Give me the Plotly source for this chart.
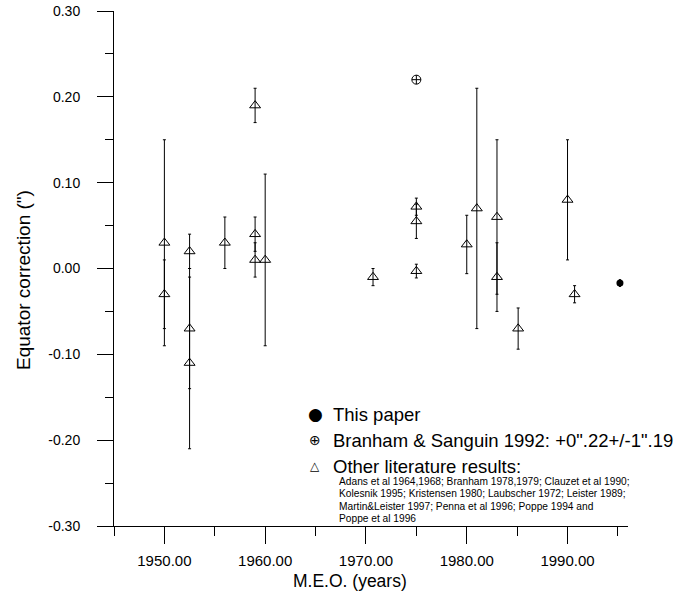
import plotly.graph_objects as go

# ---------------- data ----------------
lit_years = [1950.0, 1950.0, 1952.5, 1952.5, 1952.5, 1956.0, 1959.0, 1959.0, 1959.0, 1960.0,
             1970.7, 1975.0, 1975.0, 1975.0, 1980.0, 1981.0, 1983.0, 1983.0, 1985.1, 1990.0, 1990.7]
lit_corr = [0.03, -0.03, 0.02, -0.07, -0.11, 0.03, 0.19, 0.04, 0.01, 0.01,
            -0.01, 0.072, 0.055, -0.003, 0.028, 0.07, 0.06, -0.01, -0.07, 0.08, -0.03]
lit_err = [0.12, 0.04, 0.02, 0.07, 0.10, 0.03, 0.02, 0.02, 0.02, 0.10,
           0.01, 0.01, 0.02, 0.008, 0.034, 0.14, 0.09, 0.04, 0.024, 0.07, 0.01]

branham_years = [1975.0]
branham_corr = [0.22]

paper_years = [1995.2]
paper_corr = [-0.017]
paper_err = [0.004]

x_tickvals = [1950, 1960, 1970, 1980, 1990]
y_tickvals = [-0.30, -0.20, -0.10, 0.00, 0.10, 0.20, 0.30]
x_ticktext = [f"{v:.2f}" for v in x_tickvals]
y_ticktext = [f"{v:.2f}" for v in y_tickvals]

legend_labels = ["This paper", "Branham & Sanguin 1992: +0\".22+/-1\".19", "Other literature results:"]
ref_lines = [
    "Adans et al 1964,1968; Branham 1978,1979; Clauzet et al 1990;",
    "Kolesnik 1995; Kristensen 1980; Laubscher 1972; Leister 1989;",
    "Martin&Leister 1997; Penna et al 1996; Poppe 1994 and",
    "Poppe et al 1996",
]

# ---------------- figure ----------------
W, H = 693, 591
ML, MR, MT, MB = 114, 65, 11, 65
PW, PH = W - ML - MR, H - MT - MB


def px(x):
    return (x - ML) / PW


def py(y):
    return (H - MB - y) / PH


FONT = "Liberation Sans, Arial, sans-serif"

fig = go.Figure()
fig.add_trace(go.Scatter(
    x=lit_years, y=lit_corr, mode="markers",
    marker=dict(symbol="triangle-up-open", size=9.5, color="black", line=dict(width=1, color="black")),
    error_y=dict(type="data", array=lit_err, color="black", thickness=1, width=1.5),
    showlegend=False))
fig.add_trace(go.Scatter(
    x=branham_years, y=branham_corr, mode="markers",
    marker=dict(symbol="circle-cross-open", size=9, color="black", line=dict(width=1, color="black")),
    showlegend=False))
fig.add_trace(go.Scatter(
    x=paper_years, y=paper_corr, mode="markers",
    marker=dict(symbol="circle", size=7, color="black"),
    error_y=dict(type="data", array=paper_err, color="black", thickness=1, width=1),
    showlegend=False))

annotations = []
# legend keys
glyphs = [("\u25CF", 17, 414), ("\u2295", 14, 440), ("\u25B3", 12, 466)]
for g, fs, yy in glyphs:
    annotations.append(dict(text=g, x=px(315), y=py(yy), xref="paper", yref="paper",
                            xanchor="center", yanchor="middle", showarrow=False,
                            font=dict(family="DejaVu Sans", size=fs, color="black")))
for lab, yy in zip(legend_labels, [414, 440, 466.5]):
    annotations.append(dict(text=lab, x=px(331), y=py(yy), xref="paper", yref="paper",
                            xanchor="left", yanchor="middle", showarrow=False,
                            font=dict(family=FONT, size=18.5, color="black")))
for i, line in enumerate(ref_lines):
    annotations.append(dict(text=line, x=px(337), y=py(481.7 + 12.2 * i), xref="paper", yref="paper",
                            xanchor="left", yanchor="middle", showarrow=False,
                            font=dict(family=FONT, size=10.2, color="black")))
# axis titles
annotations.append(dict(text="M.E.O. (years)", x=px(350), y=py(581), xref="paper", yref="paper",
                        xanchor="center", yanchor="middle", showarrow=False,
                        font=dict(family=FONT, size=17.5, color="black")))
annotations.append(dict(text="Equator correction (\")", x=px(23), y=py(280), xref="paper", yref="paper",
                        xanchor="center", yanchor="middle", textangle=-90, showarrow=False,
                        font=dict(family=FONT, size=19, color="black")))

fig.update_layout(
    width=W, height=H,
    margin=dict(l=ML, r=MR, t=MT, b=MB, pad=0, autoexpand=False),
    paper_bgcolor="white", plot_bgcolor="white",
    font=dict(family=FONT, color="black"),
    annotations=annotations,
    showlegend=False,
)
fig.update_xaxes(
    range=[1945, 1996], tickmode="array", tickvals=x_tickvals, ticktext=x_ticktext, automargin=False,
    showline=True, linecolor="black", linewidth=1, showgrid=False, zeroline=False,
    ticks="outside", ticklen=17, tickcolor="black", tickwidth=1,
    ticklabelstandoff=4,
    tickfont=dict(family=FONT, size=15, color="black"),
    minor=dict(tickmode="linear", tick0=1945, dtick=10, ticks="outside", ticklen=9,
               tickcolor="black", tickwidth=1, showgrid=False),
)
fig.update_yaxes(
    range=[-0.30, 0.30], tickmode="array", tickvals=y_tickvals, ticktext=y_ticktext, automargin=False,
    showline=True, linecolor="black", linewidth=1, showgrid=False, zeroline=False,
    ticks="outside", ticklen=16, tickcolor="black", tickwidth=1,
    ticklabelstandoff=14,
    tickfont=dict(family=FONT, size=14, color="black"),
    minor=dict(tickmode="linear", tick0=-0.25, dtick=0.1, ticks="outside", ticklen=8,
               tickcolor="black", tickwidth=1, showgrid=False),
)

fig.write_html(
    "out.html",
    config={"displayModeBar": False},
    post_script=("document.body.style.margin='0px';"
                 "var d=document.getElementById('{plot_id}');"
                 "d.style.position='absolute';d.style.left='0px';d.style.top='0px';"),
)
